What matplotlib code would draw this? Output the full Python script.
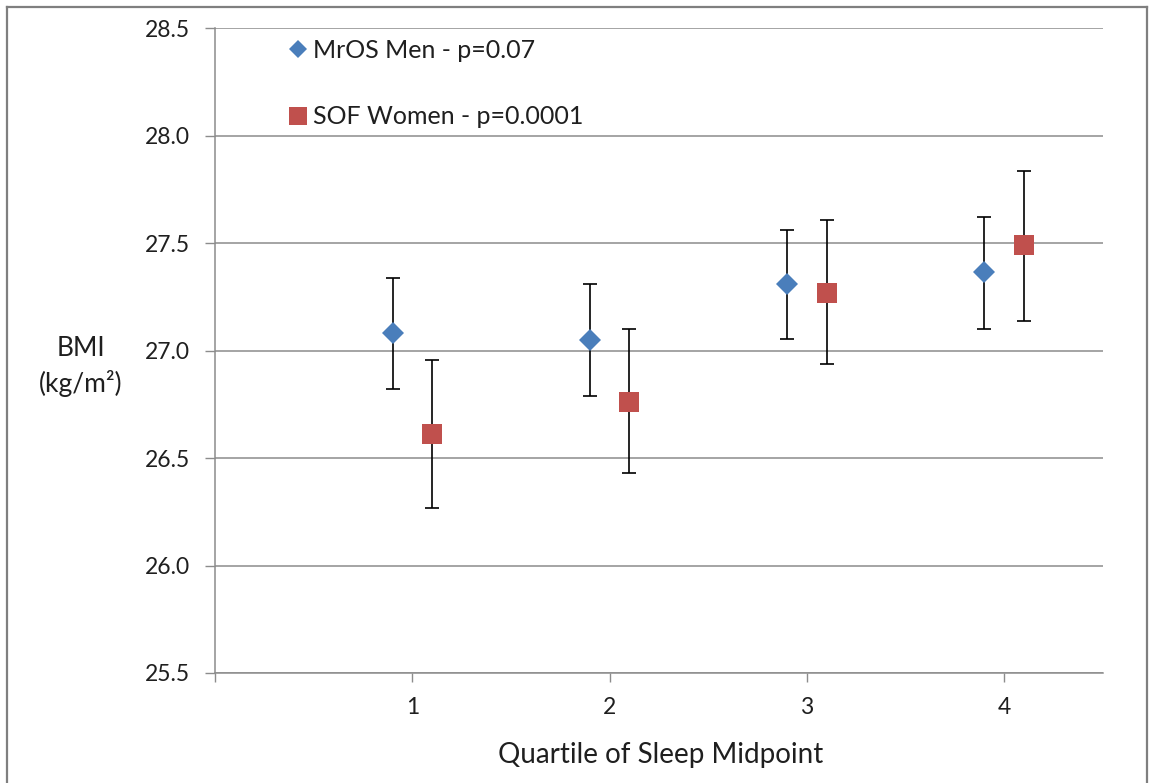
import matplotlib
matplotlib.use('Agg')
import matplotlib.pyplot as plt
from matplotlib.lines import Line2D

plt.rcParams['font.family'] = ['Lato', 'DejaVu Sans']

# data
quartiles = [1, 2, 3, 4]
mros_bmi = [27.08, 27.05, 27.31, 27.365]
mros_lo = [26.82, 26.79, 27.056, 27.10]
mros_hi = [27.34, 27.31, 27.56, 27.62]
sof_bmi = [26.61, 26.76, 27.27, 27.49]
sof_lo = [26.27, 26.43, 26.94, 27.14]
sof_hi = [26.955, 27.10, 27.61, 27.835]
xtick_vals = [0, 1, 2, 3, 4]
xtick_labels = ['', '1', '2', '3', '4']
ytick_vals = [25.5, 26.0, 26.5, 27.0, 27.5, 28.0, 28.5]

blue = '#4A7EBB'
red = '#C0504D'
grid_col = '#8C8C8C'
txt_col = '#1F1F1F'

fig = plt.figure(figsize=(11.5, 7.83), dpi=100)
ax = fig.add_axes([0.187, 0.1405, 0.772, 0.8234])

x_m = [q - 0.1 for q in quartiles]
x_s = [q + 0.1 for q in quartiles]
err_m = [[m - l for m, l in zip(mros_bmi, mros_lo)], [h - m for m, h in zip(mros_bmi, mros_hi)]]
err_s = [[m - l for m, l in zip(sof_bmi, sof_lo)], [h - m for m, h in zip(sof_bmi, sof_hi)]]

ax.errorbar(x_m, mros_bmi, yerr=err_m, fmt='none', ecolor='black', elinewidth=1.2,
            capsize=5, capthick=1.2, zorder=3)
ax.errorbar(x_s, sof_bmi, yerr=err_s, fmt='none', ecolor='black', elinewidth=1.2,
            capsize=5, capthick=1.2, zorder=3)
ax.plot(x_m, mros_bmi, linestyle='none', marker='D', ms=10.7, mfc=blue, mec=blue, mew=0,
        zorder=4, label='MrOS Men - p=0.07')
ax.plot(x_s, sof_bmi, linestyle='none', marker='s', ms=15, mfc=red, mec=red, mew=0,
        zorder=4, label='SOF Women - p=0.0001')

ax.set_xlim(0, 4.5)
ax.set_ylim(25.5, 28.5)
ax.set_xticks(xtick_vals)
ax.set_xticklabels(xtick_labels)
ax.set_yticks(ytick_vals)
ax.set_yticklabels(['%.1f' % v for v in ytick_vals])

ax.grid(axis='y', color=grid_col, lw=1.1, zorder=0)
ax.set_axisbelow(True)
for s in ['top', 'right']:
    ax.spines[s].set_visible(False)
for s in ['left', 'bottom']:
    ax.spines[s].set_color(grid_col)
    ax.spines[s].set_linewidth(1.1)

ax.tick_params(axis='y', length=7.2, width=1, color=grid_col, pad=11, labelsize=16.5, labelcolor=txt_col)
ax.tick_params(axis='x', length=6.5, width=1, color=grid_col, pad=10.5, labelsize=16.5, labelcolor=txt_col)

ax.set_xlabel('Quartile of Sleep Midpoint', fontsize=20, color=txt_col)
ax.xaxis.set_label_coords(0.502, -0.127)
ax.xaxis.label.set_va('center')
ax.set_ylabel('BMI\n(kg/m²)', fontsize=19, color=txt_col, rotation=0, linespacing=1.4)
ax.yaxis.set_label_coords(-0.151, 0.475)
ax.yaxis.label.set_va('center')
ax.yaxis.label.set_ha('center')

leg = ax.legend(loc='upper left', bbox_to_anchor=(0.081, 0.984), frameon=False, fontsize=18,
                handlelength=0.88, handletextpad=0.16, labelspacing=1.75, borderpad=0,
                borderaxespad=0, markerscale=0.85)
for t in leg.get_texts():
    t.set_color(txt_col)

# outer chart frame
fc = '#7F7F7F'
fig.add_artist(Line2D([0.0061, 0.0061], [-0.01, 0.991], transform=fig.transFigure, color=fc, lw=1.6))
fig.add_artist(Line2D([0.0061, 0.9974], [0.991, 0.991], transform=fig.transFigure, color=fc, lw=1.6))
fig.add_artist(Line2D([0.9974, 0.9974], [-0.01, 0.991], transform=fig.transFigure, color=fc, lw=1.6))

fig.savefig('out.png', dpi=100)
